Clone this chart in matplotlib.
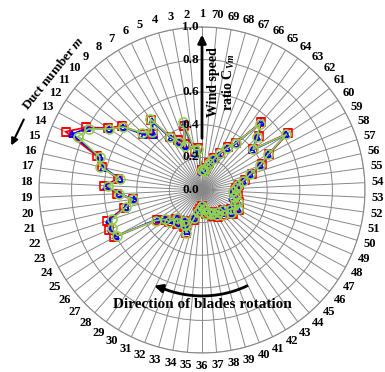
import numpy as np
import matplotlib
matplotlib.use("Agg")
import matplotlib.pyplot as plt
from matplotlib import transforms

plt.rcParams['font.family'] = ['Liberation Serif', 'DejaVu Serif']
plt.rcParams['font.weight'] = 'bold'
plt.rcParams['mathtext.fontset'] = 'custom'
plt.rcParams['mathtext.rm'] = 'Liberation Serif:bold'
plt.rcParams['mathtext.it'] = 'Liberation Serif:italic:bold'
plt.rcParams['mathtext.bf'] = 'Liberation Serif:bold'

# duct numbers 1..70 and wind speed ratio C_Vm per duct
ducts = list(range(1, 71))
cv_red = [0.12, 0.26, 0.24, 0.41, 0.30, 0.34, 0.38, 0.53, 0.46, 0.50,
          0.63, 0.69, 0.81, 0.91, 0.68, 0.63, 0.52, 0.60, 0.52, 0.43,
          0.49, 0.61, 0.62, 0.61, 0.33, 0.30, 0.28, 0.24, 0.26, 0.22,
          0.25, 0.28, 0.19, 0.14, 0.12, 0.10, 0.13, 0.15, 0.14, 0.17,
          0.16, 0.19, 0.17, 0.20, 0.18, 0.24, 0.21, 0.26, 0.22, 0.24,
          0.20, 0.22, 0.20, 0.21, 0.23, 0.27, 0.32, 0.40, 0.47, 0.63,
          0.40, 0.48, 0.55, 0.36, 0.31, 0.25, 0.21, 0.17, 0.14, 0.12]
cv_blue = [0.11, 0.25, 0.23, 0.42, 0.29, 0.33, 0.37, 0.52, 0.45, 0.49,
           0.62, 0.68, 0.80, 0.87, 0.66, 0.62, 0.51, 0.59, 0.51, 0.42,
           0.48, 0.60, 0.61, 0.60, 0.32, 0.29, 0.27, 0.23, 0.25, 0.21,
           0.24, 0.27, 0.18, 0.13, 0.11, 0.10, 0.12, 0.14, 0.13, 0.16,
           0.15, 0.18, 0.16, 0.19, 0.17, 0.23, 0.20, 0.25, 0.21, 0.23,
           0.19, 0.21, 0.19, 0.20, 0.22, 0.26, 0.31, 0.39, 0.46, 0.62,
           0.39, 0.47, 0.55, 0.35, 0.30, 0.24, 0.20, 0.16, 0.13, 0.11]
cv_green = [0.12, 0.25, 0.25, 0.43, 0.29, 0.33, 0.38, 0.54, 0.47, 0.51,
            0.62, 0.68, 0.79, 0.83, 0.66, 0.64, 0.51, 0.58, 0.51, 0.43,
            0.48, 0.58, 0.60, 0.59, 0.34, 0.29, 0.28, 0.23, 0.25, 0.22,
            0.24, 0.28, 0.18, 0.14, 0.12, 0.10, 0.12, 0.15, 0.14, 0.16,
            0.16, 0.18, 0.17, 0.20, 0.18, 0.23, 0.21, 0.25, 0.22, 0.23,
            0.20, 0.21, 0.19, 0.21, 0.22, 0.26, 0.31, 0.39, 0.46, 0.62,
            0.40, 0.47, 0.54, 0.36, 0.30, 0.25, 0.20, 0.17, 0.14, 0.12]
r_ticks = [0.0, 0.2, 0.4, 0.6, 0.8, 1.0]

W, H = 385, 372
fig = plt.figure(figsize=(W / 100, H / 100), dpi=100)
cx, cy, R = 202, 190, 163
ax = fig.add_axes([(cx - R) / W, (H - cy - R) / H, 2 * R / W, 2 * R / H],
                  projection='polar')
ax.set_theta_zero_location('N')
ax.set_theta_direction(1)

n = len(ducts)
theta = np.deg2rad((np.array(ducts) - 1) * 360.0 / n)
th = np.append(theta, theta[0])

def closed(v):
    return np.append(v, v[0])

ax.plot(th, closed(cv_red), '-s', color='red', mfc='none', mec='red',
        ms=6, mew=1.2, lw=1.3, zorder=3)
ax.plot(th, closed(cv_blue), '-^', color='blue', mfc='none', mec='blue',
        ms=5, mew=1.2, lw=1.2, zorder=4)
ax.plot(th, closed(cv_green), '-o', color='#92d050', mfc='none', mec='#92d050',
        ms=6.5, mew=1.2, lw=1.2, zorder=5)

ax.set_ylim(0, 1.0)
ax.set_yticks(r_ticks)
ax.set_yticklabels([])
ax.set_thetagrids(np.rad2deg(theta), labels=[str(d) for d in ducts],
                  fontsize=9, fontweight='bold')
ax.tick_params(axis='x', pad=-1)
ax.grid(True, color='#888888', lw=0.7)
ax.spines['polar'].set_color('#888888')
ax.spines['polar'].set_linewidth(0.8)

off = transforms.offset_copy(ax.transData, fig=fig, x=-3, y=0, units='dots')
for r in r_ticks:
    ax.text(0, r, f"{r:.1f}", transform=off, ha='right', va='center',
            fontsize=9.5, fontweight='bold', zorder=6)

# wind speed arrow
ax.annotate('', xy=(0, 0.97), xytext=(0, 0.30),
            arrowprops=dict(arrowstyle='-|>', color='black', lw=2,
                            mutation_scale=12), zorder=7)
fig.text(222 / W, 1 - 82 / H, "Wind speed\nratio C$_{Vm}$", rotation=90,
         ha='center', va='center', multialignment='center', fontsize=10,
         fontweight='bold', linespacing=1.0)

# duct number label
fig.text(53 / W, 1 - 73 / H, "Duct number $m$", rotation=51, ha='center',
         va='center', fontsize=9.5, fontweight='bold')
fig.add_artist(matplotlib.patches.FancyArrowPatch(
    (25 / W, 1 - 117 / H), (10 / W, 1 - 148 / H), transform=fig.transFigure,
    arrowstyle='-|>', mutation_scale=10, color='black', lw=1.5))

# blade rotation arrow
arc = np.deg2rad(np.linspace(205, 158, 40))
ax.plot(arc, np.full(arc.size, 0.65), color='black', lw=2, zorder=7)
ax.annotate('', xy=(np.deg2rad(152), 0.66), xytext=(np.deg2rad(158), 0.65),
            arrowprops=dict(arrowstyle='-|>', color='black', lw=2,
                            mutation_scale=12), zorder=7)
fig.text(202 / W, 1 - 305 / H, "Direction of blades rotation", ha='center',
         va='center', fontsize=11, fontweight='bold')

fig.savefig('out.png', dpi=100)
